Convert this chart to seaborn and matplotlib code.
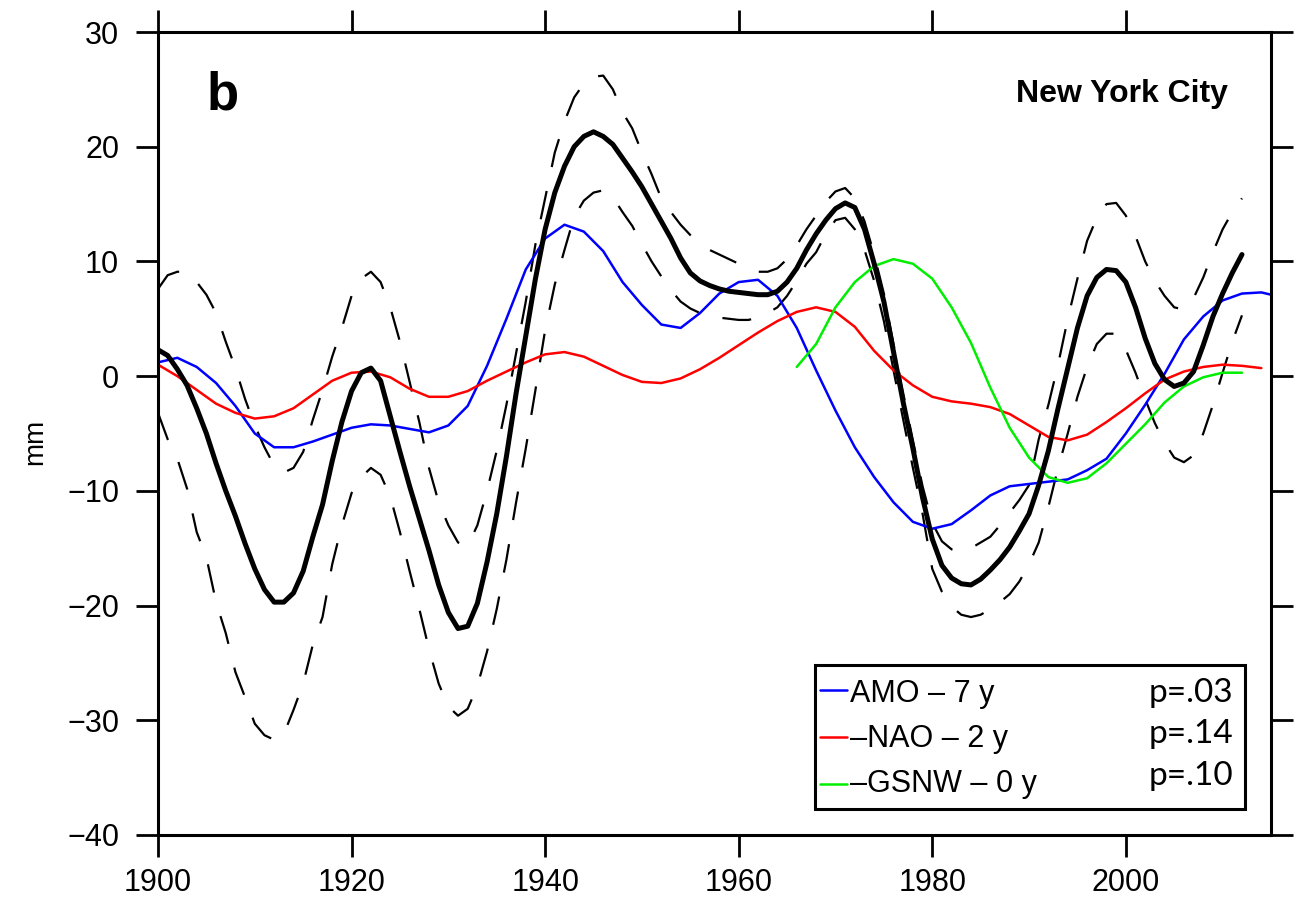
import matplotlib
matplotlib.use("Agg")
import matplotlib.pyplot as plt
import seaborn as sns
import pandas as pd
from matplotlib.patches import Rectangle
from matplotlib.lines import Line2D

# ---------------- data ----------------
years_main = list(range(1900, 2013))
sea_level = [2.3, 1.8, 0.6, -0.8, -2.8, -5.0, -7.6, -10.0, -12.2, -14.6,
             -16.8, -18.6, -19.7, -19.7, -18.9, -17.0, -14.0, -11.2, -7.4, -4.0,
             -1.3, 0.3, 0.7, -0.4, -3.5, -6.6, -9.6, -12.4, -15.2, -18.2,
             -20.6, -22.0, -21.8, -19.8, -16.2, -12.0, -7.0, -1.5, 3.5, 8.5,
             12.8, 16.0, 18.3, 20.0, 20.9, 21.3, 20.9, 20.2, 19.0, 17.8,
             16.5, 15.0, 13.5, 12.0, 10.3, 9.0, 8.3, 7.9, 7.6, 7.4,
             7.3, 7.2, 7.1, 7.1, 7.4, 8.2, 9.4, 11.0, 12.4, 13.6,
             14.6, 15.1, 14.7, 12.8, 9.8, 6.5, 2.1, -2.3, -6.3, -10.6,
             -14.2, -16.5, -17.6, -18.1, -18.2, -17.7, -16.9, -16.0, -14.9, -13.5,
             -12.0, -9.5, -6.5, -2.8, 0.7, 4.2, 7.0, 8.6, 9.3, 9.2,
             8.2, 6.0, 3.3, 1.1, -0.3, -0.9, -0.6, 0.4, 2.7, 5.2,
             7.2, 9.0, 10.6]
upper = [7.6, 8.8, 9.1, 9.1, 8.2, 7.1, 5.5, 3.0, 0.7, -2.0,
         -4.3, -6.2, -7.8, -8.4, -8.0, -6.6, -3.8, -1.2, 1.7, 4.2,
         7.0, 8.5, 9.1, 8.2, 6.0, 3.0, -0.5, -4.0, -8.0, -11.0,
         -13.0, -14.5, -14.8, -13.0, -10.0, -6.5, -2.5, 2.0, 6.5, 11.5,
         15.5, 19.5, 22.2, 24.3, 25.5, 26.1, 26.2, 25.0, 23.0, 21.6,
         19.5, 17.6, 15.5, 14.3, 13.2, 12.3, 11.5, 11.0, 10.6, 10.2,
         9.8, 9.4, 9.1, 9.1, 9.4, 10.2, 11.4, 12.8, 14.0, 15.2,
         16.1, 16.4, 15.5, 13.5, 10.6, 7.2, 2.8, -1.5, -5.6, -9.6,
         -12.8, -14.4, -15.1, -15.3, -15.0, -14.5, -14.0, -13.0, -11.9, -10.8,
         -9.5, -5.5, -2.5, 1.0, 5.0, 8.5, 11.8, 13.8, 15.0, 15.1,
         14.0, 12.2, 10.0, 8.3, 7.0, 6.0, 5.8, 6.8, 8.6, 10.8,
         12.8, 14.3, 15.5]
lower = [-3.2, -5.5, -7.2, -9.8, -13.6, -15.8, -19.7, -22.4, -25.8, -28.0,
         -30.3, -31.3, -31.7, -31.2, -29.1, -26.8, -23.4, -21.0, -16.4, -13.0,
         -10.2, -8.8, -8.0, -8.6, -10.5, -13.6, -17.0, -20.3, -23.8, -26.8,
         -28.8, -29.6, -29.0, -27.0, -24.0, -20.3, -16.0, -11.0, -6.3, -1.2,
         4.0, 8.0, 11.0, 13.9, 15.3, 16.0, 16.2, 15.6, 14.3, 13.1,
         11.5, 10.0, 8.7, 7.5, 6.5, 5.9, 5.5, 5.2, 5.1, 5.0,
         4.9, 4.9, 5.1, 5.5, 6.0, 7.0, 8.3, 9.8, 10.8, 12.4,
         13.6, 13.8, 12.8, 11.0, 8.3, 4.8, 0.5, -3.8, -8.0, -12.0,
         -16.8, -18.8, -20.1, -20.8, -21.0, -20.8, -20.3, -19.7, -19.0, -17.9,
         -16.4, -14.5, -11.4, -8.0, -5.0, -1.8, 0.8, 2.8, 3.7, 3.7,
         2.3, 0.3, -2.0, -4.1, -5.8, -7.1, -7.5, -6.9, -5.0, -2.5,
         0.3, 3.0, 5.3]

years_amo = list(range(1900, 2015, 2)) + [2015]
amo = [1.2, 1.6, 0.8, -0.6, -2.6, -5.0, -6.2, -6.2, -5.7, -5.1,
       -4.5, -4.2, -4.3, -4.6, -4.9, -4.3, -2.6, 0.9, 5.0, 9.3,
       12.0, 13.2, 12.6, 10.9, 8.2, 6.2, 4.5, 4.2, 5.5, 7.2,
       8.2, 8.4, 7.0, 4.2, 0.5, -3.0, -6.2, -8.8, -11.0, -12.7,
       -13.3, -12.9, -11.7, -10.4, -9.6, -9.4, -9.2, -9.0, -8.2, -7.2,
       -5.0, -2.5, 0.2, 3.2, 5.2, 6.6, 7.2, 7.3, 7.1]

years_nao = list(range(1900, 2015, 2))
nao = [1.0, 0.0, -1.2, -2.4, -3.2, -3.7, -3.5, -2.8, -1.6, -0.4,
       0.3, 0.4, -0.1, -1.1, -1.8, -1.8, -1.3, -0.4, 0.4, 1.2,
       1.9, 2.1, 1.7, 0.9, 0.1, -0.5, -0.6, -0.2, 0.6, 1.6,
       2.7, 3.8, 4.8, 5.6, 6.0, 5.6, 4.3, 2.2, 0.5, -0.8,
       -1.8, -2.2, -2.4, -2.7, -3.3, -4.3, -5.3, -5.6, -5.1, -4.0,
       -2.8, -1.5, -0.3, 0.4, 0.8, 1.0, 0.9, 0.7]

years_gsnw = list(range(1966, 2013, 2))
gsnw = [0.8, 2.8, 6.0, 8.2, 9.6, 10.2, 9.8, 8.5, 6.0, 2.9,
        -1.0, -4.5, -7.1, -8.8, -9.3, -8.9, -7.6, -5.9, -4.2, -2.3,
        -0.9, -0.1, 0.3, 0.3]

legend_labels = ["AMO \u2013 7 y", "\u2013NAO \u2013 2 y", "\u2013GSNW \u2013 0 y"]
p_values = ["p=.03", "p=.14", "p=.10"]
x_ticks = [1900, 1920, 1940, 1960, 1980, 2000]
y_ticks = [-40, -30, -20, -10, 0, 10, 20, 30]

# ---------------- styling ----------------
sns.set_style("ticks")
plt.rcParams["font.family"] = ["Liberation Sans", "DejaVu Sans"]
plt.rcParams["text.color"] = "black"
plt.rcParams["axes.labelcolor"] = "black"
plt.rcParams["xtick.color"] = "black"
plt.rcParams["ytick.color"] = "black"

fig = plt.figure(figsize=(12.97, 9.06), dpi=100)
ax = fig.add_axes([158 / 1297, 1 - 835 / 906, (1271 - 158) / 1297, 803 / 906])

df_main = pd.DataFrame({"year": years_main, "sl": sea_level, "up": upper, "lo": lower})
df_amo = pd.DataFrame({"year": years_amo, "v": amo})
df_nao = pd.DataFrame({"year": years_nao, "v": nao})
df_gsnw = pd.DataFrame({"year": years_gsnw, "v": gsnw})

dash = (0, (13, 11))
sns.lineplot(data=df_main, x="year", y="up", ax=ax, color="black", linewidth=1.6,
             linestyle=dash, estimator=None, sort=False)
sns.lineplot(data=df_main, x="year", y="lo", ax=ax, color="black", linewidth=1.6,
             linestyle=dash, estimator=None, sort=False)
sns.lineplot(data=df_amo, x="year", y="v", ax=ax, color="#0000ff", linewidth=1.8,
             estimator=None, sort=False)
sns.lineplot(data=df_nao, x="year", y="v", ax=ax, color="#ff0000", linewidth=1.8,
             estimator=None, sort=False)
sns.lineplot(data=df_gsnw, x="year", y="v", ax=ax, color="#00ee00", linewidth=1.8,
             estimator=None, sort=False)
sns.lineplot(data=df_main, x="year", y="sl", ax=ax, color="black", linewidth=3.6,
             estimator=None, sort=False)

ax.set_xlim(1900, 2015)
ax.set_ylim(-40, 30)
ax.set_xticks(x_ticks)
ax.set_yticks(y_ticks)
ax.set_xlabel("")
ax.set_ylabel("mm", fontsize=20, color="black")
ax.yaxis.set_label_coords(-0.099, 0.49)

for s in ax.spines.values():
    s.set_visible(True)
    s.set_linewidth(2.2)
    s.set_color("black")
ax.tick_params(axis="both", which="major", direction="out", length=16, width=2,
               labelsize=22, top=True, right=True, color="black", labelcolor="black")
ax.tick_params(axis="x", pad=8)
ax.tick_params(axis="y", pad=12)

ax.text(0.044, 0.903, "b", transform=ax.transAxes, fontsize=38, fontweight="bold",
        ha="left", va="baseline", color="black")
ax.text(0.961, 0.913, "New York City", transform=ax.transAxes, fontsize=23,
        fontweight="bold", ha="right", va="baseline", color="black")

# legend box
box = Rectangle((0.590, 0.0324), 0.3866, 0.1793, transform=ax.transAxes,
                facecolor="white", edgecolor="black", linewidth=2.2, zorder=10)
ax.add_patch(box)
colors = ["#0000ff", "#ff0000", "#00ee00"]
line_y = [0.1806, 0.1220, 0.0635]
text_y = [0.1656, 0.1096, 0.0535]
p_y = [0.1656, 0.1146, 0.0623]
for c, ly, ty, py, lab, pv in zip(colors, line_y, text_y, p_y, legend_labels, p_values):
    ax.add_line(Line2D([0.5948, 0.619], [ly, ly], transform=ax.transAxes,
                       color=c, linewidth=1.8, zorder=11))
    ax.text(0.6217, ty, lab, transform=ax.transAxes, fontsize=22, ha="left",
            va="baseline", zorder=11, color="black")
    ax.text(0.966, py, pv, transform=ax.transAxes, fontsize=24, ha="right",
            va="baseline", zorder=11, family=["Lato", "DejaVu Sans"], color="black")

fig.savefig("out.png", dpi=100)
